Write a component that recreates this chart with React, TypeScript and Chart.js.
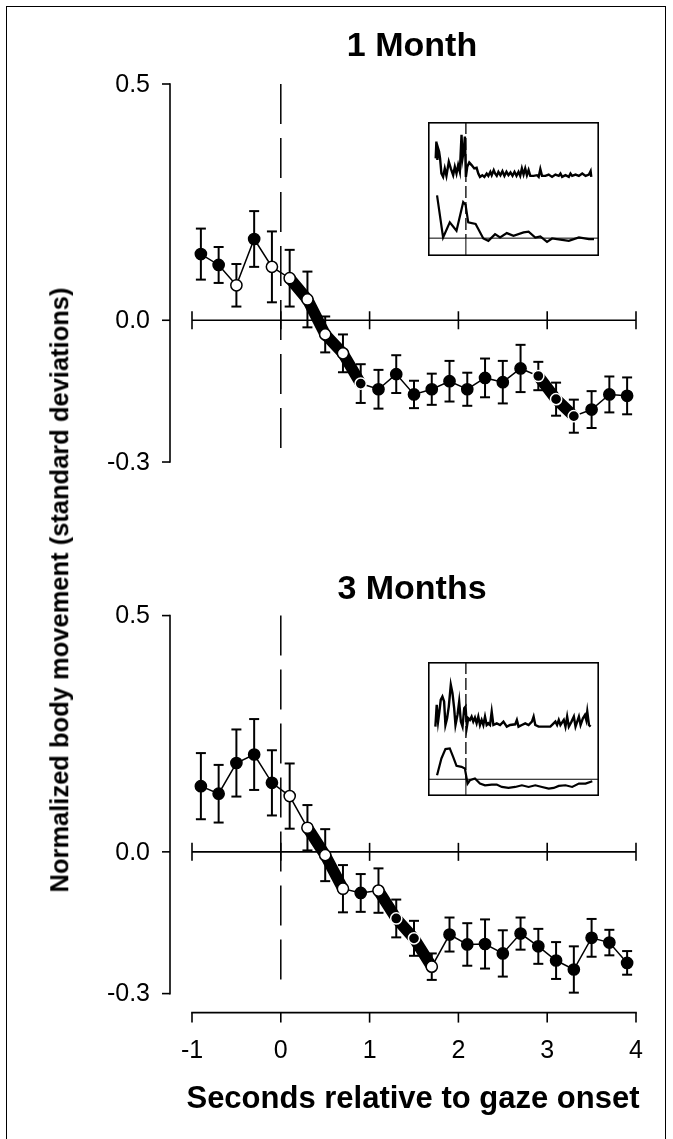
import React, { useEffect, useRef } from 'react';
import { Chart, registerables } from 'chart.js';

Chart.register(...registerables);

// ---------------- data ----------------
const TIMES = [-0.9, -0.7, -0.5, -0.3, -0.1, 0.1, 0.3, 0.5, 0.7, 0.9, 1.1, 1.3, 1.5, 1.7, 1.9, 2.1, 2.3, 2.5, 2.7, 2.9, 3.1, 3.3, 3.5, 3.7, 3.9];

const MONTH1_MEAN = [0.140, 0.117, 0.074, 0.172, 0.113, 0.089, 0.044, -0.030, -0.070, -0.134, -0.146, -0.114, -0.157, -0.146, -0.129, -0.146, -0.122, -0.131, -0.102, -0.118, -0.167, -0.203, -0.189, -0.157, -0.160];
const MONTH1_SE = [0.054, 0.038, 0.045, 0.059, 0.075, 0.060, 0.059, 0.038, 0.040, 0.041, 0.041, 0.040, 0.029, 0.033, 0.043, 0.035, 0.041, 0.045, 0.050, 0.030, 0.035, 0.035, 0.039, 0.038, 0.039];
// f = filled, o = open, w = filled with white rim (inside a significant run)
const MONTH1_MARKER = ['f', 'f', 'o', 'f', 'o', 'o', 'o', 'o', 'o', 'w', 'f', 'f', 'f', 'f', 'f', 'f', 'f', 'f', 'f', 'w', 'w', 'w', 'f', 'f', 'f'];
const MONTH1_RUNS = [[5, 9], [19, 21]];

const MONTH3_MEAN = [0.139, 0.123, 0.188, 0.206, 0.146, 0.118, 0.051, -0.007, -0.078, -0.087, -0.082, -0.141, -0.183, -0.243, -0.175, -0.196, -0.195, -0.215, -0.173, -0.200, -0.230, -0.249, -0.182, -0.192, -0.235];
const MONTH3_SE = [0.070, 0.061, 0.071, 0.075, 0.069, 0.069, 0.048, 0.055, 0.050, 0.040, 0.047, 0.040, 0.037, 0.028, 0.036, 0.045, 0.052, 0.049, 0.034, 0.037, 0.039, 0.049, 0.040, 0.027, 0.025];
const MONTH3_MARKER = ['f', 'f', 'f', 'f', 'f', 'o', 'o', 'o', 'o', 'f', 'o', 'w', 'w', 'o', 'f', 'f', 'f', 'f', 'f', 'f', 'f', 'f', 'f', 'f', 'f'];
const MONTH3_RUNS = [[6, 8], [10, 13]];

const X_TICKS = [-1, 0, 1, 2, 3, 4];
const X_TICK_LABELS = ['-1', '0', '1', '2', '3', '4'];
const Y_TICKS = [0.5, 0.0, -0.3];
const Y_TICK_LABELS = ['0.5', '0.0', '-0.3'];
const PANEL_TITLES = ['1 Month', '3 Months'];
const X_TITLE = 'Seconds relative to gaze onset';
const Y_TITLE = 'Normalized body movement (standard deviations)';

// inset traces: [time, value]
const INSET1_RAW = [[-0.90, 2.37], [-0.88, 2.87], [-0.85, 2.32], [-0.83, 2.67], [-0.80, 2.57], [-0.77, 2.37], [-0.73, 1.92], [-0.68, 1.82], [-0.63, 2.07], [-0.58, 1.85], [-0.51, 2.27], [-0.45, 2.07], [-0.38, 1.87], [-0.33, 2.12], [-0.28, 1.92], [-0.23, 2.17], [-0.18, 1.97], [-0.13, 3.07], [-0.10, 2.37], [-0.06, 2.62], [-0.03, 3.02], [0.00, 1.82], [0.04, 2.12], [0.10, 2.25], [0.17, 2.17], [0.25, 2.07], [0.32, 2.09], [0.37, 1.92], [0.42, 1.82], [0.49, 1.87], [0.55, 1.82], [0.62, 1.92], [0.67, 1.85], [0.73, 1.97], [0.77, 1.87], [0.83, 2.02], [0.87, 1.92], [0.92, 1.85], [0.97, 1.97], [1.03, 1.87], [1.09, 1.99], [1.15, 1.85], [1.21, 1.97], [1.27, 1.87], [1.33, 1.95], [1.39, 1.85], [1.45, 1.97], [1.51, 1.85], [1.57, 1.97], [1.62, 1.85], [1.67, 2.07], [1.72, 1.89], [1.77, 2.07], [1.82, 1.87], [1.87, 2.02], [1.92, 1.85], [2.02, 1.85], [2.12, 1.87], [2.17, 1.82], [2.22, 2.05], [2.27, 1.85], [2.37, 1.85], [2.47, 1.89], [2.57, 1.82], [2.67, 1.89], [2.77, 1.85], [2.82, 1.92], [2.87, 1.82], [2.97, 1.87], [3.07, 1.82], [3.12, 1.92], [3.17, 1.85], [3.27, 1.89], [3.37, 1.85], [3.47, 1.92], [3.57, 1.85], [3.67, 1.89], [3.72, 1.99], [3.74, 1.82]];
const INSET1_SMOOTH = [[-0.86, 1.27], [-0.68, 0.02], [-0.48, 0.47], [-0.28, 0.22], [-0.08, 1.07], [-0.01, 0.99], [0.07, 0.47], [0.29, 0.42], [0.52, -0.01], [0.67, -0.08], [0.87, 0.12], [1.02, 0.02], [1.22, 0.15], [1.42, 0.07], [1.72, 0.17], [1.87, 0.19], [2.07, 0.02], [2.22, 0.05], [2.42, -0.11], [2.57, -0.01], [2.87, -0.05], [3.07, -0.08], [3.37, 0.02], [3.67, -0.03], [3.82, -0.03]];
const INSET3_RAW = [[-0.91, 1.57], [-0.87, 2.22], [-0.83, 1.72], [-0.79, 2.02], [-0.75, 2.37], [-0.70, 2.47], [-0.65, 2.32], [-0.61, 1.62], [-0.56, 1.82], [-0.51, 2.17], [-0.45, 2.82], [-0.40, 2.57], [-0.35, 2.12], [-0.31, 1.62], [-0.25, 1.92], [-0.20, 2.32], [-0.15, 1.72], [-0.10, 1.57], [-0.05, 2.12], [-0.01, 2.17], [0.03, 1.57], [0.07, 1.82], [0.12, 1.77], [0.17, 1.87], [0.22, 1.72], [0.27, 1.84], [0.32, 1.67], [0.37, 1.87], [0.42, 1.62], [0.47, 1.77], [0.52, 1.62], [0.57, 1.87], [0.62, 1.62], [0.67, 1.67], [0.72, 1.62], [0.77, 2.02], [0.82, 1.62], [0.92, 1.67], [1.02, 1.62], [1.12, 1.72], [1.22, 1.57], [1.32, 1.62], [1.47, 1.64], [1.52, 1.77], [1.57, 1.57], [1.67, 1.62], [1.77, 1.67], [1.87, 1.62], [1.97, 1.72], [2.02, 1.87], [2.07, 1.62], [2.17, 1.57], [2.37, 1.57], [2.52, 1.57], [2.67, 1.72], [2.72, 1.62], [2.77, 1.77], [2.82, 1.62], [2.92, 1.77], [2.97, 1.57], [3.02, 1.87], [3.07, 1.57], [3.15, 1.72], [3.22, 1.87], [3.27, 1.57], [3.37, 1.87], [3.42, 1.62], [3.49, 1.82], [3.55, 1.92], [3.59, 1.77], [3.62, 2.02], [3.67, 1.62], [3.72, 1.57]];
const INSET3_SMOOTH = [[-0.86, 0.12], [-0.73, 0.62], [-0.61, 0.90], [-0.48, 0.92], [-0.38, 0.67], [-0.28, 0.40], [-0.13, 0.37], [-0.03, 0.32], [0.05, -0.13], [0.12, -0.03], [0.27, 0.02], [0.42, -0.13], [0.57, -0.18], [0.77, -0.16], [0.92, -0.16], [1.07, -0.23], [1.27, -0.26], [1.47, -0.23], [1.67, -0.18], [1.87, -0.23], [2.07, -0.18], [2.27, -0.23], [2.47, -0.28], [2.62, -0.26], [2.77, -0.20], [2.97, -0.18], [3.17, -0.23], [3.37, -0.13], [3.57, -0.13], [3.77, -0.06]];

const INSET_T_RANGE = [-1.13, 3.97];
const INSET1_V_RANGE = [-0.53, 3.45];
const INSET3_V_RANGE = [-0.5, 3.5];

// ---------------- layout ----------------
const W = 673;
const H = 1139;
const FONT = "'Liberation Sans', Arial, Helvetica, sans-serif";
const PANEL_GAP = 0.325; // empty value-space between the two panels
const Y_SPAN = Y_TICKS[0] - Y_TICKS[Y_TICKS.length - 1];

const PANELS = [
  { axis: 'yTop', mean: MONTH1_MEAN, se: MONTH1_SE, marker: MONTH1_MARKER, runs: MONTH1_RUNS },
  { axis: 'yBot', mean: MONTH3_MEAN, se: MONTH3_SE, marker: MONTH3_MARKER, runs: MONTH3_RUNS },
];

function line(ctx: CanvasRenderingContext2D, x1: number, y1: number, x2: number, y2: number) {
  ctx.beginPath();
  ctx.moveTo(x1, y1);
  ctx.lineTo(x2, y2);
  ctx.stroke();
}

const axesPlugin = {
  id: 'panelAxes',
  beforeDatasetsDraw(chart: any) {
    const ctx: CanvasRenderingContext2D = chart.ctx;
    const xs = chart.scales.x;
    const xLeft = xs.getPixelForValue(X_TICKS[0]);
    const xRight = xs.getPixelForValue(X_TICKS[X_TICKS.length - 1]);
    const axisX = xLeft - 22;
    ctx.save();
    ctx.strokeStyle = '#000';
    ctx.fillStyle = '#000';
    ctx.lineCap = 'butt';
    PANELS.forEach((p, pi) => {
      const ys = chart.scales[p.axis];
      const yHi = ys.getPixelForValue(Y_TICKS[0]);
      const yLo = ys.getPixelForValue(Y_TICKS[Y_TICKS.length - 1]);
      ctx.lineWidth = 1.6;
      ctx.setLineDash([]);
      line(ctx, axisX, yHi - 0.8, axisX, yLo + 0.8);
      ctx.font = `25px ${FONT}`;
      ctx.textAlign = 'right';
      ctx.textBaseline = 'middle';
      Y_TICKS.forEach((v, i) => {
        const py = ys.getPixelForValue(v);
        line(ctx, axisX - 8, py, axisX, py);
        ctx.fillText(Y_TICK_LABELS[i], axisX - 20, py + 1);
      });
      // zero line with ticks
      const p0 = ys.getPixelForValue(0);
      line(ctx, xLeft, p0, xRight, p0);
      X_TICKS.forEach((v) => {
        const px = xs.getPixelForValue(v);
        line(ctx, px, p0 - 9, px, p0 + 9);
      });
      // gaze onset dashed line
      const xo = xs.getPixelForValue(0);
      ctx.lineWidth = 1.5;
      ctx.setLineDash([40, 14]);
      line(ctx, xo, yHi, xo, yLo);
      ctx.setLineDash([]);
      // bottom time axis under the last panel
      if (pi === PANELS.length - 1) {
        const yb = yLo + 19;
        ctx.lineWidth = 1.6;
        line(ctx, xLeft - 0.8, yb, xRight + 0.8, yb);
        ctx.textAlign = 'center';
        X_TICKS.forEach((v, i) => {
          const px = xs.getPixelForValue(v);
          line(ctx, px, yb, px, yb + 10);
          ctx.fillText(X_TICK_LABELS[i], px, yb + 39);
        });
      }
      // error bars
      ctx.lineWidth = 2;
      TIMES.forEach((t, i) => {
        const px = xs.getPixelForValue(t);
        const top = ys.getPixelForValue(p.mean[i] + p.se[i]);
        const bot = ys.getPixelForValue(p.mean[i] - p.se[i]);
        line(ctx, px, top, px, bot);
        line(ctx, px - 5, top, px + 5, top);
        line(ctx, px - 5, bot, px + 5, bot);
      });
    });
    ctx.restore();
  },
};

function panelDatasets(p: any) {
  const pts = TIMES.map((t, i) => ({ x: t, y: p.mean[i] }));
  const ds: any[] = [
    {
      data: pts,
      xAxisID: 'x',
      yAxisID: p.axis,
      borderColor: '#000',
      borderWidth: 1.5,
      tension: 0,
      fill: false,
      pointRadius: 5.6,
      pointBorderWidth: 1.5,
      pointBackgroundColor: p.marker.map((m: string) => (m === 'o' ? '#fff' : '#000')),
      pointBorderColor: p.marker.map((m: string) => (m === 'w' ? '#fff' : '#000')),
      order: 0,
    },
  ];
  p.runs.forEach(([a, b]: number[]) => {
    ds.push({
      data: pts.slice(a, b + 1),
      xAxisID: 'x',
      yAxisID: p.axis,
      borderColor: '#000',
      borderWidth: 11.5,
      borderCapStyle: 'round',
      borderJoinStyle: 'round',
      tension: 0,
      fill: false,
      pointRadius: 0,
      order: 1,
    });
  });
  return ds;
}

function MainChart() {
  const ref = useRef<HTMLCanvasElement | null>(null);
  useEffect(() => {
    if (!ref.current) return;
    const chart = new Chart(ref.current, {
      type: 'line',
      data: { datasets: [...panelDatasets(PANELS[0]), ...panelDatasets(PANELS[1])] },
      options: {
        animation: false,
        responsive: false,
        devicePixelRatio: 1,
        layout: { padding: { left: 192, right: W - 636, top: 84, bottom: H - 84 - 909.6 } },
        plugins: { legend: { display: false }, tooltip: { enabled: false }, title: { display: false } },
        scales: {
          x: { type: 'linear', display: false, min: X_TICKS[0], max: X_TICKS[X_TICKS.length - 1] },
          yTop: { type: 'linear', display: false, max: Y_TICKS[0], min: Y_TICKS[Y_TICKS.length - 1] - Y_SPAN - PANEL_GAP },
          yBot: { type: 'linear', display: false, min: Y_TICKS[Y_TICKS.length - 1], max: Y_TICKS[0] + Y_SPAN + PANEL_GAP },
        },
      } as any,
      plugins: [axesPlugin],
    });
    return () => chart.destroy();
  }, []);
  return <canvas ref={ref} width={W} height={H} style={{ position: 'absolute', left: 0, top: 0, width: W, height: H }} />;
}

const insetPlugin = {
  id: 'insetFrame',
  beforeDatasetsDraw(chart: any) {
    const ctx: CanvasRenderingContext2D = chart.ctx;
    const { left, right, top, bottom } = chart.chartArea;
    const xs = chart.scales.x;
    const ys = chart.scales.y;
    const y0 = ys.getPixelForValue(0);
    const x0 = xs.getPixelForValue(0);
    ctx.save();
    ctx.strokeStyle = '#000';
    ctx.lineWidth = 1;
    line(ctx, left, y0, right, y0);
    line(ctx, x0, y0, x0, bottom);
    ctx.lineWidth = 1.3;
    ctx.setLineDash([12, 4]);
    line(ctx, x0, top, x0, y0);
    ctx.setLineDash([]);
    ctx.lineWidth = 1.6;
    ctx.strokeRect(left + 0.8, top + 0.8, right - left - 1.6, bottom - top - 1.6);
    ctx.restore();
  },
};

function Inset({ raw, smooth, vRange, left, top }: any) {
  const ref = useRef<HTMLCanvasElement | null>(null);
  useEffect(() => {
    if (!ref.current) return;
    const mk = (d: number[][], w: number) => ({
      data: d.map(([t, v]) => ({ x: t, y: v })),
      borderColor: '#000',
      borderWidth: w,
      pointRadius: 0,
      tension: 0,
      fill: false,
    });
    const chart = new Chart(ref.current, {
      type: 'line',
      data: { datasets: [mk(raw, 2.4), mk(smooth, 2.2)] },
      options: {
        animation: false,
        responsive: false,
        devicePixelRatio: 1,
        layout: { padding: 0 },
        plugins: { legend: { display: false }, tooltip: { enabled: false } },
        scales: {
          x: { type: 'linear', display: false, min: INSET_T_RANGE[0], max: INSET_T_RANGE[1] },
          y: { type: 'linear', display: false, min: vRange[0], max: vRange[1] },
        },
      } as any,
      plugins: [insetPlugin],
    });
    return () => chart.destroy();
  }, []);
  return <canvas ref={ref} width={171} height={134} style={{ position: 'absolute', left, top, width: 171, height: 134 }} />;
}

const textBase: React.CSSProperties = {
  position: 'absolute',
  fontFamily: FONT,
  fontWeight: 'bold',
  color: '#000',
  lineHeight: 1,
  whiteSpace: 'nowrap',
  transform: 'translate(-50%, -50%)',
};

export default function App() {
  return (
    <div style={{ position: 'absolute', left: 0, top: 0, width: W, height: H, overflow: 'hidden', background: '#fff' }}>
      <div style={{ position: 'absolute', left: 6, top: 6, width: 658, height: H, borderLeft: '1.5px solid #000', borderTop: '1.5px solid #000', borderRight: '1.5px solid #000' }} />
      <MainChart />
      <Inset raw={INSET1_RAW} smooth={INSET1_SMOOTH} vRange={INSET1_V_RANGE} left={428} top={122} />
      <Inset raw={INSET3_RAW} smooth={INSET3_SMOOTH} vRange={INSET3_V_RANGE} left={428} top={662} />
      <div style={{ ...textBase, left: 412, top: 44, fontSize: 34 }}>{PANEL_TITLES[0]}</div>
      <div style={{ ...textBase, left: 412, top: 587, fontSize: 34 }}>{PANEL_TITLES[1]}</div>
      <div style={{ ...textBase, left: 413, top: 1097, fontSize: 31 }}>{X_TITLE}</div>
      <div style={{ ...textBase, left: 60, top: 590, fontSize: 25.5, transform: 'translate(-50%, -50%) rotate(-90deg)' }}>{Y_TITLE}</div>
    </div>
  );
}
